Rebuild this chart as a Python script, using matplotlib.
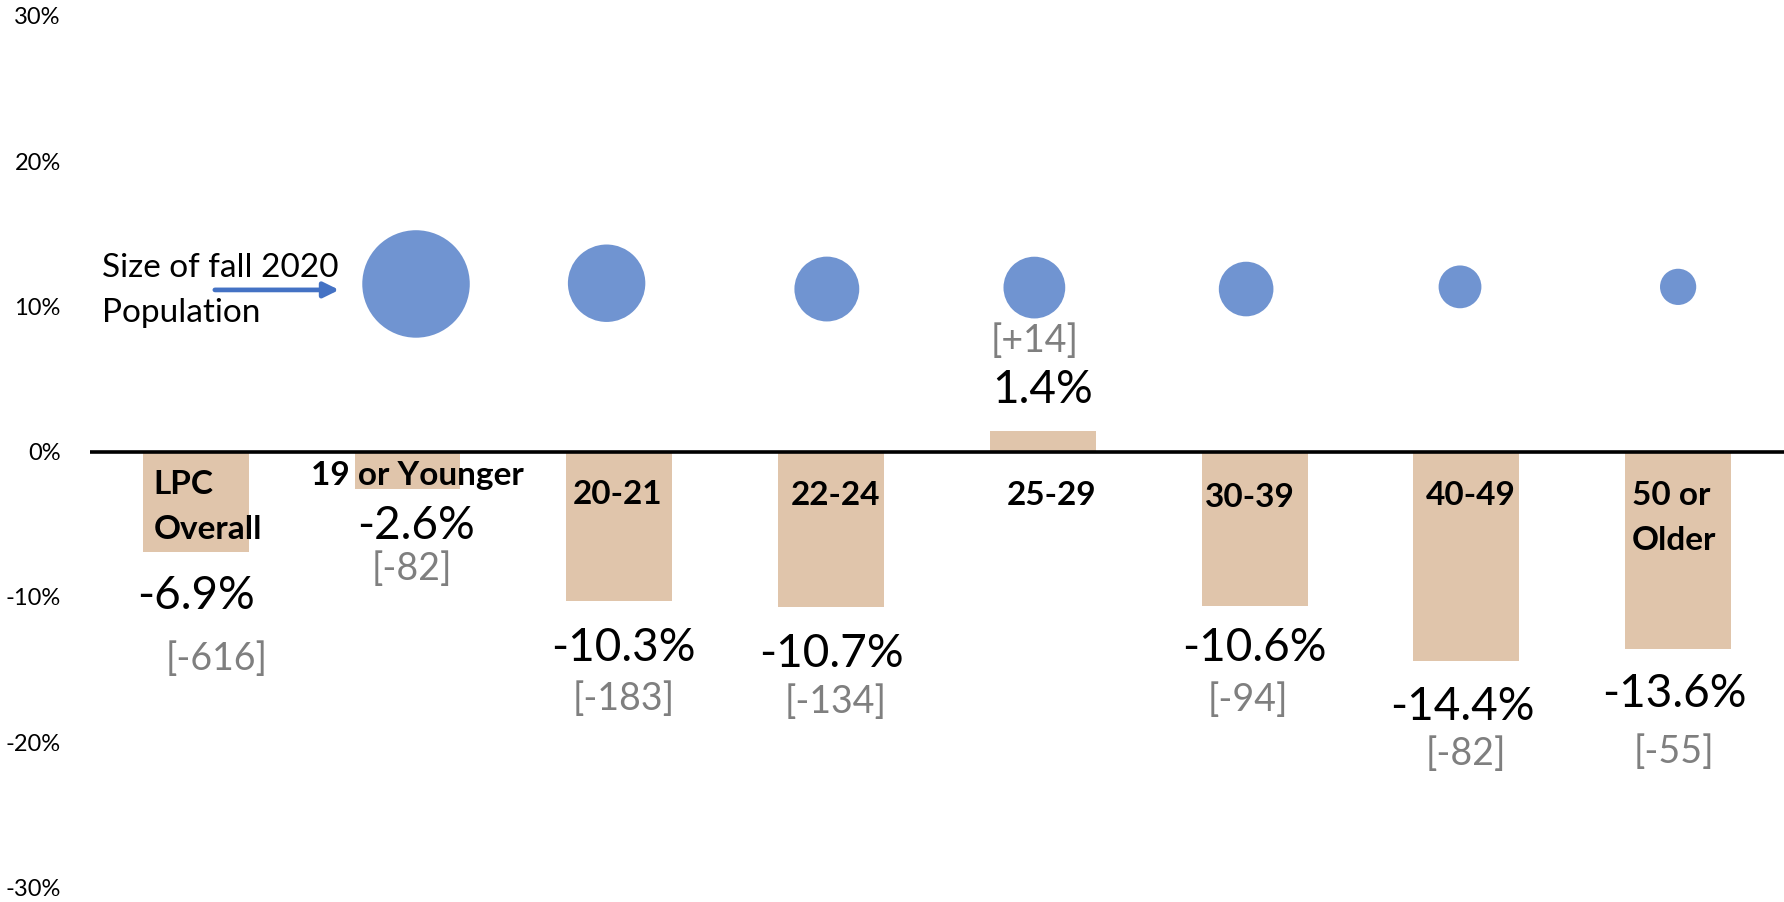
import numpy as np
import matplotlib
matplotlib.use('Agg')
import matplotlib.pyplot as plt

plt.rcParams['font.family'] = ['Lato', 'DejaVu Sans']

# 数据
categories = ['LPC\nOverall', '19 or Younger', '20-21', '22-24', '25-29', '30-39', '40-49', '50 or\nOlder']
pct_change = [-6.9, -2.6, -10.3, -10.7, 1.4, -10.6, -14.4, -13.6]
count_change = ['[-616]', '[-82]', '[-183]', '[-134]', '[+14]', '[-94]', '[-82]', '[-55]']

# 气泡: fall 2020 人数 (估计)
bubble_x = [1.04, 1.94, 2.98, 3.96, 4.96, 5.97, 7.0]
bubble_y = [11.55, 11.6, 11.2, 11.3, 11.2, 11.35, 11.35]
population = [3072, 1594, 1118, 1014, 793, 487, 349]

# 标签位置
pct_pos = [(0.0, -9.9), (1.04, -5.1), (2.02, -13.5), (3.0, -13.9),
           (4.0, 4.25), (5.0, -13.5), (5.98, -17.6), (6.98, -16.7)]
cnt_pos = [(0.1, -14.3), (1.02, -8.1), (2.02, -17.0), (3.02, -17.2),
           (3.96, 7.6), (4.97, -17.1), (6.0, -20.8), (6.98, -20.7)]
# (x, 第一行基线 y, 对齐)
cat_pos = [(-0.199, -2.93, 'left'), (1.048, -2.29, 'center'), (1.993, -3.6, 'center'),
           (3.02, -3.7, 'center'), (4.04, -3.7, 'center'), (4.98, -3.78, 'center'),
           (6.02, -3.66, 'center'), (6.78, -3.66, 'left')]

fig = plt.figure(figsize=(17.84, 9.02), dpi=100)
ax = fig.add_axes([0.0504, 0.0161, 0.9496, 0.9662])

x = np.arange(len(categories))
ax.bar(x, pct_change, width=0.5, color='#E0C5AB', zorder=1)
ax.axhline(0, color='black', lw=2.6, zorder=2)

# 气泡
ax.scatter(bubble_x, bubble_y, s=np.array(population) * 1.95, marker='o',
           color='#7094D1', edgecolors='none', zorder=3)

# 箭头 + 说明
ax.annotate('', xy=(0.677, 11.14), xytext=(0.09, 11.14),
            arrowprops=dict(arrowstyle='-|>,head_length=0.65,head_width=0.32',
                            color='#4472C4', lw=3.4, mutation_scale=14, shrinkA=0, shrinkB=0))
ax.text(-0.445, 12.06, 'Size of fall 2020', fontsize=24, ha='left', va='baseline')
ax.text(-0.445, 8.96, 'Population', fontsize=24, ha='left', va='baseline')

for i, lab in enumerate(categories):
    cx, cy, ha = cat_pos[i]
    for j, line in enumerate(lab.split('\n')):
        ax.text(cx, cy - j * 3.08, line, fontsize=24, fontweight='bold', ha=ha,
                va='baseline', zorder=4)

for i in range(len(categories)):
    ax.text(pct_pos[i][0], pct_pos[i][1], '%.1f%%' % pct_change[i], fontsize=33,
            ha='center', va='center', zorder=4)
    ax.text(cnt_pos[i][0], cnt_pos[i][1], count_change[i], fontsize=27, color='#7F7F7F',
            ha='center', va='center', zorder=4)

yt = [-30, -20, -10, 0, 10, 20, 30]
ax.set_xlim(-0.5, 7.5)
ax.set_ylim(-30, 30)
ax.set_xticks([])
ax.set_yticks(yt)
ax.set_yticklabels(['%d%%' % v for v in yt], fontsize=17)
ax.tick_params(axis='y', length=0, pad=21)
for s in ax.spines.values():
    s.set_visible(False)

fig.savefig('out.png', dpi=100)
